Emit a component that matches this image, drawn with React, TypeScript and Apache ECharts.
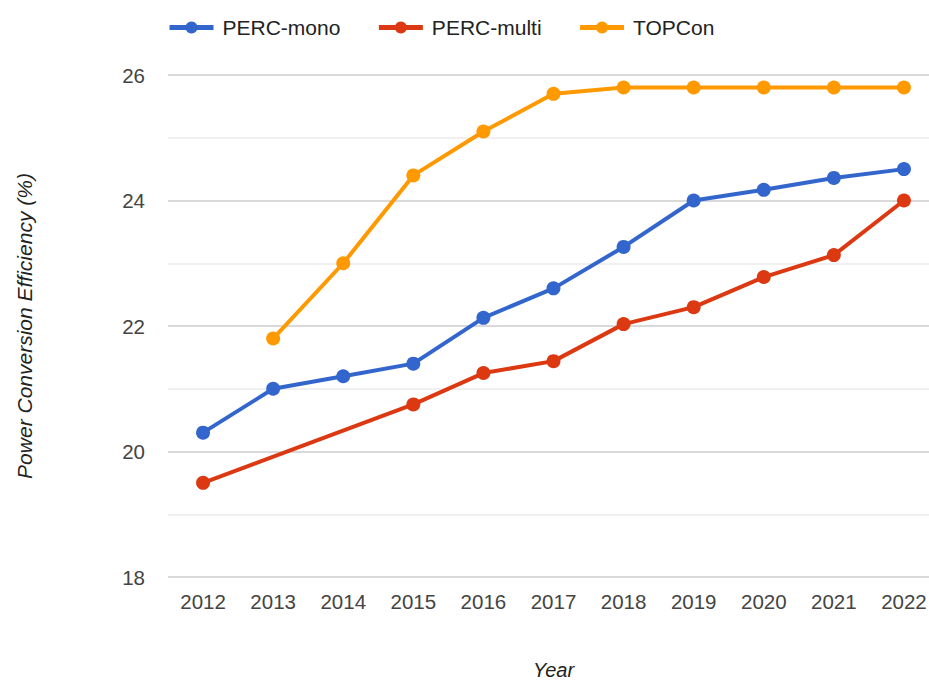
import React, { useEffect, useRef } from "react";
import * as echarts from "echarts";

const years = ["2012", "2013", "2014", "2015", "2016", "2017", "2018", "2019", "2020", "2021", "2022"];
const percMono = [20.3, 21.0, 21.2, 21.4, 22.13, 22.6, 23.26, 24.0, 24.17, 24.36, 24.5];
const percMulti = [19.5, null, null, 20.75, 21.25, 21.44, 22.03, 22.3, 22.78, 23.13, 24.0];
const topcon = [null, 21.8, 23.0, 24.4, 25.1, 25.7, 25.8, 25.8, 25.8, 25.8, 25.8];
const seriesNames = ["PERC-mono", "PERC-multi", "TOPCon"];
const colors = ["#3366cc", "#dc3912", "#ff9900"];

export default function App() {
  const ref = useRef<HTMLDivElement>(null);
  useEffect(() => {
    const chart = echarts.init(ref.current!, null, { renderer: "svg" });
    const font = "Arial, 'Liberation Sans', sans-serif";
    const mk = (name: string, data: (number | null)[], color: string) => ({
      name,
      type: "line",
      data,
      connectNulls: true,
      symbol: "circle",
      symbolSize: 14,
      itemStyle: { color },
      lineStyle: { color, width: 4 },
    });
    chart.setOption({
      animation: false,
      textStyle: { fontFamily: font },
      legend: {
        left: 167,
        top: 17,
        padding: 0,
        itemWidth: 44,
        itemHeight: 15,
        itemGap: 36,
        textStyle: { fontSize: 21, color: "#222", fontFamily: font, padding: [0, 0, 0, 4] },
        data: seriesNames.map((n) => ({ name: n, itemStyle: {}, lineStyle: { width: 5 } })),
      },
      grid: { left: 168, top: 75, width: 771, height: 502, containLabel: false, outerBoundsMode: "none" },
      xAxis: {
        type: "category",
        data: years,
        boundaryGap: true,
        axisLine: { show: false },
        axisTick: { show: false },
        axisLabel: { fontSize: 20.5, color: "#444", margin: 14, fontFamily: font },
        name: "Year",
        nameLocation: "middle",
        nameGap: 83,
        nameTextStyle: { fontSize: 20, color: "#222", fontStyle: "italic", fontFamily: font },
      },
      yAxis: {
        type: "value",
        min: 18,
        max: 26,
        interval: 1,
        axisLine: { show: false },
        axisTick: { show: false },
        axisLabel: {
          fontSize: 20.5,
          color: "#444",
          margin: 23,
          fontFamily: font,
          formatter: (v: number) => (v % 2 === 0 ? String(v) : ""),
        },
        splitLine: { lineStyle: { color: ["#cccccc", "#ebebeb"], width: 1.5 } },
        name: "Power Conversion Efficiency (%)",
        nameLocation: "middle",
        nameGap: 133,
        nameTextStyle: { fontSize: 21, color: "#222", fontStyle: "italic", fontFamily: font },
      },
      series: [
        mk(seriesNames[0], percMono, colors[0]),
        mk(seriesNames[1], percMulti, colors[1]),
        mk(seriesNames[2], topcon, colors[2]),
      ],
    });
    return () => chart.dispose();
  }, []);
  return <div ref={ref} style={{ width: 929, height: 680, position: "absolute", left: 0, top: 0 }} />;
}
